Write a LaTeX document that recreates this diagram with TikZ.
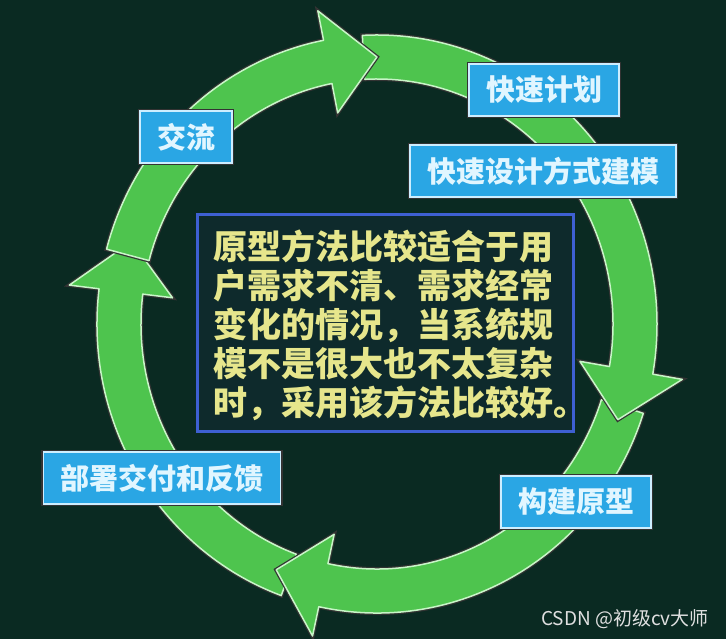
\documentclass[tikz,border=0pt]{standalone}
\usepackage{fontspec}
\newfontfamily\cjk{Noto Sans CJK SC}
\definecolor{bgdark}{RGB}{10,42,34}
\definecolor{ringgreen}{RGB}{78,196,78}
\definecolor{ringedge}{RGB}{200,245,200}
\definecolor{lblblue}{RGB}{42,166,228}
\definecolor{lbledge}{RGB}{205,238,255}
\definecolor{lbltext}{RGB}{225,246,255}
\definecolor{infofill}{RGB}{14,42,44}
\definecolor{infoedge}{RGB}{62,96,210}
\definecolor{infotext}{RGB}{230,230,140}

% one green piece of the ring: start angle, head base, tip
\newcommand{\ringseg}[3]{%
  \filldraw[ringarrow] (#1:280pt and 289pt)
    arc[start angle=#1, end angle=#2, x radius=280pt, y radius=289pt]
    -- (#2:310pt and 319pt) -- (#3:258pt and 267pt) -- (#2:206pt and 215pt)
    -- (#2:236pt and 245pt)
    arc[start angle=#2, end angle=#1, x radius=236pt, y radius=245pt] -- cycle;}

\begin{document}
\begin{tikzpicture}[x=1pt, y=1pt,
    ringarrow/.style={fill=ringgreen, draw=ringedge, line width=1.5pt, line join=round,
      preaction={draw=black!80, line width=4pt}},
    lbl/.style={fill=lblblue, draw=lbledge, line width=1.6pt, text=lbltext,
      preaction={draw=black!80, line width=4.5pt},
      font=\cjk\bfseries\fontsize{29}{29}\selectfont, inner xsep=17pt, minimum height=52pt},
    infobox/.style={fill=infofill, draw=infoedge, line width=3pt},
    infotxt/.style={text=infotext, align=left, inner sep=0pt,
      font=\cjk\bfseries\fontsize{34}{39}\selectfont},
    wmark/.style={text=black!12, font=\cjk\fontsize{19}{19}\selectfont}]
    % 1. Nền
    \fill[bgdark] (0,0) rectangle (726,639);
    \useasboundingbox (0,0) rectangle (726,639);

    % 2. Vòng mũi tên
    \begin{scope}[shift={(377,315)}]
        \ringseg{-110}{-187}{-198}
        \ringseg{-18}{-102}{-113}
        \ringseg{93}{-10}{-21}
        \ringseg{165}{101}{90}
    \end{scope}

    % 3. Các nhãn
    \node[lbl] (jiaoliu) at (186,502) {交流};
    \node[lbl] (jihua) at (544,549) {快速计划};
    \node[lbl] (sheji) at (543,468) {快速设计方式建模};
    \node[lbl] (goujian) at (576,137) {构建原型};
    \node[lbl] (bushu) at (162,161) {部署交付和反馈};

    % 4. Khung giữa
    \node[infobox, minimum width=376pt, minimum height=217pt] (box) at (385,315.5) {};
    \node[infotxt, anchor=west] (desc) at (213,314) {原型方法比较适合于用\\户需求不清、需求经常\\变化的情况，当系统规\\模不是很大也不太复杂\\时，采用该方法比较好。};

    \node[wmark] (credit) at (625,20) {CSDN @初级cv大师};
\end{tikzpicture}
\end{document}
